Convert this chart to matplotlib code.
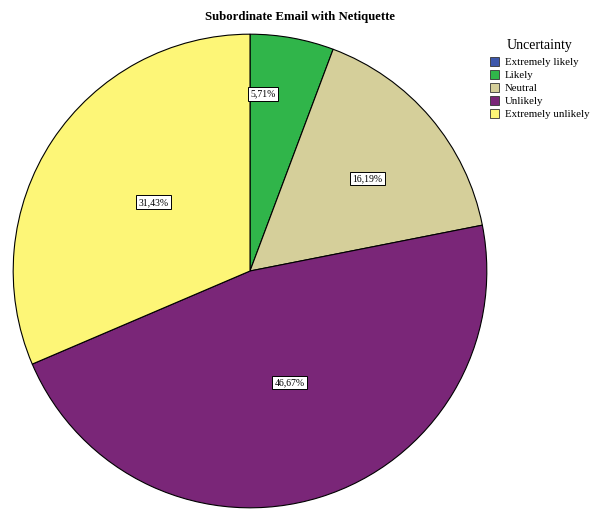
import numpy as np
import matplotlib.pyplot as plt
from matplotlib.patches import Patch

categories = ["Extremely likely", "Likely", "Neutral", "Unlikely", "Extremely unlikely"]
percents = [0.0, 5.71, 16.19, 46.67, 31.43]
colors = ["#3d57ab", "#30b54a", "#d5cf9a", "#7a2678", "#fdf677"]
# where the value boxes sit inside each slice
label_dist = [0.5, 0.75, 0.63, 0.5, 0.5]
label_shift = [0, 6, -2, 2.5, -2]

plt.rcParams['font.family'] = ['Liberation Serif', 'DejaVu Serif']

fig = plt.figure(figsize=(5.96, 5.11), dpi=100)
ax = fig.add_axes([250 / 596 - 238 / 596, 2 / 511, 476 / 596, 476 / 511])

shown = [(c, p, d, s) for c, p, d, s in zip(categories, percents, label_dist, label_shift) if p > 0]
shown_cols = [col for col, p in zip(colors, percents) if p > 0]
wedges, _ = ax.pie([s[1] for s in shown], colors=shown_cols,
                   startangle=90, counterclock=False, radius=1,
                   wedgeprops=dict(edgecolor='black', linewidth=0.8))

for w, (c, p, d, s) in zip(wedges, shown):
    ang = np.deg2rad((w.theta1 + w.theta2) / 2 + s)
    x, y = d * np.cos(ang), d * np.sin(ang)
    ax.text(x, y, f"{p:.2f}%".replace('.', ','), ha='center', va='center', fontsize=7,
            bbox=dict(boxstyle='square,pad=0.25', facecolor='white', edgecolor='black', linewidth=0.7))

ax.set_xlim(-1.005, 1.005)
ax.set_ylim(-1.005, 1.005)
ax.set_aspect('equal')
ax.axis('off')

fig.text(0.503, 0.967, "Subordinate Email with Netiquette", ha='center', va='center',
         fontsize=9.2, fontweight='bold')

# legend title placed by hand, SPSS leaves a wider gap under it
fig.text(540 / 596, 1 - 45 / 511, "Uncertainty", ha='center', va='center', fontsize=10)
handles = [Patch(facecolor=col, edgecolor='#333333', linewidth=0.6) for col in colors]
leg = fig.legend(handles, categories, loc='upper left',
                 bbox_to_anchor=(0.822, 1 - 57 / 511), frameon=False, fontsize=7.8,
                 handlelength=0.8, handleheight=0.9, handletextpad=0.55, labelspacing=0.25,
                 borderaxespad=0, borderpad=0)

fig.savefig('out.png', dpi=100)
